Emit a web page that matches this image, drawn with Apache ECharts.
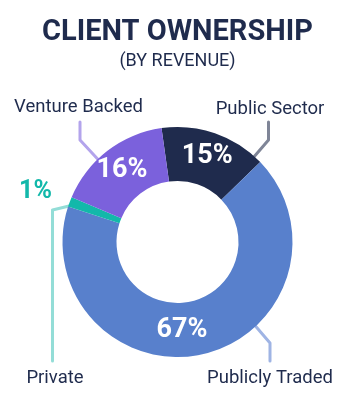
<!DOCTYPE html>
<html>
<head>
<meta charset="utf-8">
<script src="https://cdn.jsdelivr.net/npm/echarts@6/dist/echarts.min.js"></script>
<style>
  html, body { margin: 0; padding: 0; background: #fff; }
  #main { width: 355px; height: 411px; }
</style>
</head>
<body>
<div id="main"></div>
<script type="text/javascript">
    // data
    var categories = ['Public Sector', 'Publicly Traded', 'Private', 'Venture Backed'];
    var shares = [15, 67.2, 1.4, 16.4];
    var sliceColors = ['#1f2b4d', '#5880cc', '#13b8aa', '#7b61dc'];
    var lineColors = ['#7f8597', '#9fb4e4', '#93ddd7', '#b3a4ec'];

    var navy = '#1f2b4d';
    var cx = 177.5, cy = 242, rIn = 61, rOut = 115, rLine = 108;

    // where the names sit and how their leader lines run
    // angle = where the line leaves the ring (deg, clockwise from top), null = middle of slice
    var nameSpots = [
        { x: 270, y: 109, angle: 42, lineX: 268.5, bendY: 140, endY: 122 },
        { x: 270, y: 378, angle: 137, lineX: 270, bendY: 343, endY: 361 },
        { x: 55, y: 378, angle: null, lineX: 52.5, bendY: 210, endY: 361 },
        { x: 78.5, y: 107, angle: -44, lineX: 80, bendY: 140, endY: 122 }
    ];
    // spots for the percent labels that are not left in the middle of their slice
    var pctSpots = { 1: [182, 330], 2: [35.5, 192] };

    var startAngle = 98;
    var total = shares.reduce(function (a, b) { return a + b; }, 0);

    function midAngle(i) {
        var before = 0;
        for (var k = 0; k < i; k++) before += shares[k];
        return (90 - startAngle) + (before + shares[i] / 2) / total * 360;
    }

    var myChart = echarts.init(document.getElementById('main'));

    var pctData = categories.map(function (name, i) {
        var item = { name: name, value: shares[i], itemStyle: { color: sliceColors[i] } };
        if (i === 2) {
            item.label = { color: sliceColors[i], fontSize: 25 };
        }
        return item;
    });

    var nameData = categories.map(function (name, i) {
        return {
            name: name,
            value: shares[i],
            labelLine: { lineStyle: { color: lineColors[i] } }
        };
    });

    myChart.setOption({
        animation: false,
        title: {
            text: 'CLIENT OWNERSHIP',
            subtext: '(BY REVENUE)',
            left: 'center',
            top: 13,
            itemGap: 5,
            textStyle: { fontFamily: 'Roboto', fontSize: 29, fontWeight: 'bold', color: navy },
            subtextStyle: { fontFamily: 'Roboto', fontSize: 18, color: navy }
        },
        series: [{
            type: 'pie',
            center: [cx, cy],
            radius: [rIn, rOut],
            startAngle: startAngle,
            silent: true,
            label: {
                show: true,
                position: 'inside',
                formatter: function (p) { return Math.round(p.value) + '%'; },
                fontFamily: 'Roboto',
                fontSize: 27,
                fontWeight: 'bold',
                color: '#fff'
            },
            labelLine: { show: false },
            labelLayout: function (p) {
                var s = pctSpots[p.dataIndex];
                if (!s) return {};
                return { x: s[0], y: s[1], align: 'center', verticalAlign: 'middle' };
            },
            data: pctData
        }, {
            type: 'pie',
            center: [cx, cy],
            radius: [rIn, rOut],
            startAngle: startAngle,
            silent: true,
            itemStyle: { color: 'transparent' },
            label: {
                show: true,
                position: 'outside',
                formatter: '{b}',
                fontFamily: 'Roboto',
                fontSize: 18.5,
                color: navy,
                overflow: 'none',
                width: 200
            },
            labelLine: {
                show: true,
                length: 10,
                length2: 10,
                lineStyle: { width: 3, cap: 'round', join: 'round' }
            },
            labelLayout: function (p) {
                var s = nameSpots[p.dataIndex];
                var a = (s.angle == null ? midAngle(p.dataIndex) : s.angle) * Math.PI / 180;
                var start = [cx + rLine * Math.sin(a), cy - rLine * Math.cos(a)];
                return {
                    x: s.x,
                    y: s.y,
                    align: 'center',
                    verticalAlign: 'middle',
                    labelLinePoints: [start, [s.lineX, s.bendY], [s.lineX, s.endY]]
                };
            },
            data: nameData
        }]
    });
</script>
</body>
</html>
